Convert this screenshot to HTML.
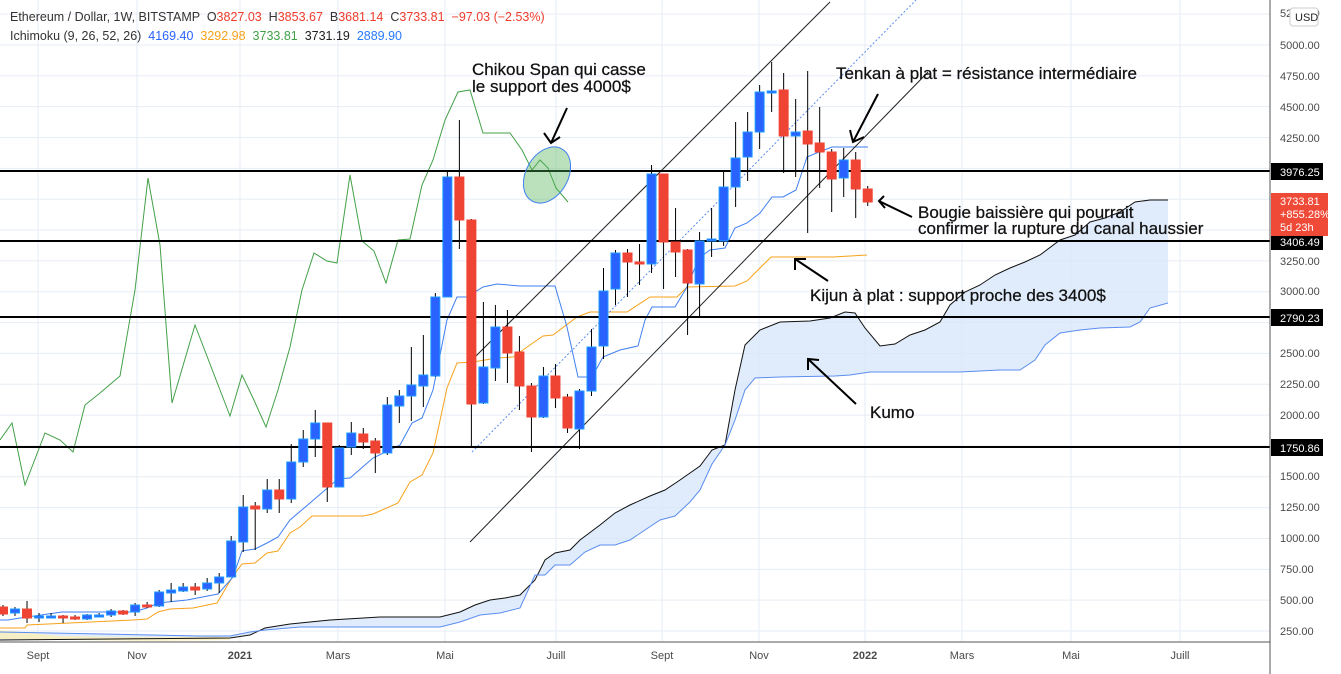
<!DOCTYPE html>
<html><head><meta charset="utf-8">
<style>
html,body{margin:0;padding:0;background:#fff;width:1341px;height:674px;overflow:hidden;font-family:"Liberation Sans",sans-serif;}
svg{position:absolute;left:0;top:0}
.ax{font-size:11px;fill:#4a4a4a}
.ann{font-size:17px;fill:#111;stroke:#111;stroke-width:0.25}
</style></head><body>
<svg width="1341" height="674" viewBox="0 0 1341 674" xmlns="http://www.w3.org/2000/svg">
<rect x="0" y="0" width="1341" height="674" fill="#fff"/>
<g id="grid" stroke="#e6edf4" stroke-width="1"></g>
<polygon id="kumo" fill="#d6e6fa" fill-opacity="0.75" points=""/>
<polygon fill="#fbf0b8" fill-opacity="0.8" points="0,630 60,636 120,637 200,637 230,637 230,640 150,641 0,639"/>
<polyline id="sb" fill="none" stroke="#111" stroke-width="1"/>
<polyline id="sa" fill="none" stroke="#5b8def" stroke-width="1"/>
<polyline fill="none" stroke="#43a047" stroke-width="1" points="0,440 12,423 25,485 45,433 60,440 73,452 85,405 100,393 120,376 135,290 148,178 160,245 172,403 195,325 220,390 230,416 242,375 253,398 266,427 278,390 290,347 302,290 314,253 327,261 337,263 350,175 362,241 374,251 386,283 398,240 410,239 422,185 433,160 445,120 458,92 470,90 483,133 510,133 522,150 532,170 540,160 548,168 556,188 568,202"/>
<polyline fill="none" stroke="#f7a21b" stroke-width="1" points="0,628 25,628 27,625 133,620 147,619 158,612 170,609 193,608 217,603 233,576 242,564 255,563 267,553 278,551 290,533 300,527 312,516 363,516 373,514 398,503 410,482 422,475 433,453 447,388 457,363 473,362 497,358 513,357 530,345 543,336 553,335 577,317 590,312 600,312 627,312 650,297 677,297 687,287 735,286 747,281 771,257 833,257 867,255"/>
<polyline fill="none" stroke="#3f7ff0" stroke-width="1" points="0,620 8,620 20,618 62,612 133,612 147,608 158,603 187,600 218,594 233,577 242,551 255,549 267,543 278,537 290,520 317,497 338,479 350,478 373,458 400,445 412,423 422,418 433,390 447,320 457,297 467,297 483,287 497,284 520,286 555,286 567,327 578,377 592,377 603,357 620,350 638,346 645,320 652,307 675,307 687,287 699,258 710,250 725,248 735,228 747,223 760,213 772,197 783,197 796,190 807,157 819,152 832,147 868,147"/>
<line x1="470" y1="362" x2="830" y2="2" stroke="#222" stroke-width="1"/>
<line x1="470" y1="542" x2="928" y2="72" stroke="#222" stroke-width="1"/>
<line x1="472" y1="452" x2="916" y2="0" stroke="#5b8def" stroke-width="1" stroke-dasharray="2,2"/>
<g stroke="#000" stroke-width="2">
<line x1="0" y1="171" x2="1270" y2="171"/>
<line x1="0" y1="241" x2="1270" y2="241"/>
<line x1="0" y1="317" x2="1270" y2="317"/>
<line x1="0" y1="447" x2="1270" y2="447"/>
</g>
<g id="candles"></g>
<ellipse cx="547" cy="175" rx="21" ry="30" transform="rotate(30 547 175)" fill="#4caf50" fill-opacity="0.38" stroke="#3f7ff0" stroke-width="1"/>
<g stroke="#000" stroke-width="2" fill="none">
<path d="M567,108 L551,143 M544,133 L551,143 L560,137"/>
<path d="M878,94 L853,142 M850,130 L853,142 L864,137"/>
<path d="M912,217 L879,201 M884,196 L879,201 L885,208"/>
<path d="M828,281 L795,259 M795,270 L795,259 L806,259"/>
<path d="M856,404 L808,359 M808,370 L808,359 L819,360"/>
</g>
<text class="ann" x="472" y="75">Chikou Span qui casse</text>
<text class="ann" x="472" y="92">le support des 4000$</text>
<text class="ann" x="836" y="79">Tenkan à plat = résistance intermédiaire</text>
<text class="ann" x="918" y="218">Bougie baissière qui pourrait</text>
<text class="ann" x="918" y="234">confirmer la rupture du canal haussier</text>
<text class="ann" x="810" y="301">Kijun à plat : support proche des 3400$</text>
<text class="ann" x="870" y="418">Kumo</text>
<line x1="1270" y1="0" x2="1270" y2="674" stroke="#555" stroke-width="1"/>
<line x1="0" y1="642" x2="1270" y2="642" stroke="#555" stroke-width="1"/>
<g class="ax">
<text x="1280" y="17">5250.00</text>
<text x="1280" y="49">5000.00</text>
<text x="1280" y="80">4750.00</text>
<text x="1280" y="111">4500.00</text>
<text x="1280" y="142">4250.00</text>
<text x="1280" y="265">3250.00</text>
<text x="1280" y="295">3000.00</text>
<text x="1280" y="357">2500.00</text>
<text x="1280" y="388">2250.00</text>
<text x="1280" y="419">2000.00</text>
<text x="1280" y="480">1500.00</text>
<text x="1280" y="511">1250.00</text>
<text x="1280" y="542">1000.00</text>
<text x="1280" y="573">750.00</text>
<text x="1280" y="604">500.00</text>
<text x="1280" y="635">250.00</text>
</g>
<rect x="1290" y="8" width="28" height="18" rx="3" fill="#fff" stroke="#ccc"/>
<text x="1295" y="21" font-size="11" fill="#222">USD</text>
<g font-size="11" fill="#fff">
<rect x="1271" y="163" width="52" height="17" fill="#000"/><text x="1280" y="176">3976.25</text>
<rect x="1271" y="233" width="52" height="17" fill="#000"/><text x="1280" y="246">3406.49</text>
<rect x="1271" y="309" width="52" height="17" fill="#000"/><text x="1280" y="322">2790.23</text>
<rect x="1271" y="439" width="52" height="17" fill="#000"/><text x="1280" y="452">1750.86</text>
<rect x="1271" y="193" width="57" height="43" fill="#ef4a37"/>
<text x="1280" y="205">3733.81</text><text x="1280" y="218">+855.28%</text><text x="1280" y="231">5d 23h</text>
</g>
<g class="ax" font-size="11" text-anchor="middle">
<text x="38" y="659">Sept</text><text x="137" y="659">Nov</text><text x="240" y="659" font-weight="bold">2021</text>
<text x="338" y="659">Mars</text><text x="445" y="659">Mai</text><text x="556" y="659">Juill</text>
<text x="662" y="659">Sept</text><text x="759" y="659">Nov</text><text x="865" y="659" font-weight="bold">2022</text>
<text x="962" y="659">Mars</text><text x="1071" y="659">Mai</text><text x="1180" y="659">Juill</text>
</g>
<text x="10" y="21" font-size="12.5" fill="#333" xml:space="preserve">Ethereum / Dollar, 1W, BITSTAMP  O<tspan fill="#ef3b2c">3827.03</tspan>  H<tspan fill="#ef3b2c">3853.67</tspan>  B<tspan fill="#ef3b2c">3681.14</tspan>  C<tspan fill="#ef3b2c">3733.81</tspan>  <tspan fill="#ef3b2c">−97.03 (−2.53%)</tspan></text>
<text x="10" y="40" font-size="12.5" fill="#333" xml:space="preserve">Ichimoku (9, 26, 52, 26)  <tspan fill="#2962ff">4169.40</tspan>  <tspan fill="#f7a21b">3292.98</tspan>  <tspan fill="#43a047">3733.81</tspan>  <tspan fill="#222">3731.19</tspan>  <tspan fill="#2979ff">2889.90</tspan></text>
</svg>
<script>
var NS="http://www.w3.org/2000/svg";
function el(t,a,p){var e=document.createElementNS(NS,t);for(var k in a)e.setAttribute(k,a[k]);p.appendChild(e);return e;}
var g=document.getElementById('grid');
[38,137,240,338,445,556,662,759,865,962,1071,1180].forEach(function(x){el('line',{x1:x,y1:0,x2:x,y2:642},g);});
for(var p=250;p<=5250;p+=250){var y=631-(p-250)*0.12337;el('line',{x1:0,y1:y,x2:1270,y2:y},g);}
var sb=[[0,640],[230,638],[250,635],[265,628],[290,624],[330,620],[380,617],[440,617],[460,612],[475,605],[490,600],[505,598],[520,595],[535,580],[545,560],[555,553],[570,550],[580,540],[600,525],[615,513],[630,505],[650,496],[665,490],[680,480],[700,466],[712,450],[725,445],[735,390],[745,345],[760,330],[780,322],[810,321],[830,318],[845,312],[855,313],[865,328],[880,346],[895,344],[910,335],[925,330],[940,322],[950,305],[965,292],[980,285],[995,275],[1010,268],[1025,262],[1040,255],[1060,240],[1075,235],[1090,222],[1105,218],[1120,212],[1135,202],[1150,200],[1168,200]];
var sa=[[0,632],[200,636],[230,636],[250,632],[265,630],[300,627],[360,627],[440,627],[460,622],[480,615],[500,613],[520,608],[535,575],[545,575],[555,565],[570,565],[585,552],[600,545],[615,545],[630,540],[645,530],[660,520],[675,516],[690,502],[700,490],[712,464],[725,445],[735,420],[745,390],[755,378],[780,377],[835,376],[850,375],[870,372],[900,372],[960,372],[1000,370],[1020,370],[1035,360],[1045,345],[1060,333],[1080,330],[1100,328],[1130,327],[1140,322],[1150,308],[1168,303]];
function pts(a){return a.map(function(q){return q.join(',');}).join(' ');}
document.getElementById('sb').setAttribute('points',pts(sb));
document.getElementById('sa').setAttribute('points',pts(sa));
document.getElementById('kumo').setAttribute('points',pts(sb.concat(sa.slice().reverse())));
var C=[['r',607,614,605,616],['b',609,613,607,616],['r',609,618,601,623],['b',616,618,613,622],['b',616,617,613,618],['r',616,618,615,623],['r',617,619,615,620],['b',615,619,614,620],['b',615,616,613,617],['b',611,615,609,617],['r',611,614,610,615],['b',605,612,603,616],['r',605,607,602,608],['b',592,606,590,607],['b',590,593,583,602],['b',587,591,583,592],['r',587,590,583,595],['b',583,589,578,591],['b',577,583,573,593],['b',541,577,536,577],['b',507,542,495,552],['r',506,509,502,550],['b',490,509,479,513],['r',490,499,479,513],['b',462,499,444,503],['b',439,462,430,467],['b',423,439,410,457],['r',423,487,423,502],['b',448,487,445,487],['b',433,447,422,455],['r',434,442,428,449],['r',441,453,438,473],['b',405,453,397,455],['b',396,406,390,423],['b',385,396,347,421],['b',375,386,335,407],['b',297,376,293,377],['b',177,297,172,297],['r',177,220,120,249],['r',220,404,219,447],['b',367,403,302,404],['b',327,368,305,381],['r',327,353,310,383],['r',352,386,336,410],['r',386,417,383,452],['b',376,417,367,418],['r',376,398,364,408],['r',397,428,394,433],['b',391,429,389,449],['b',347,391,329,396],['b',291,346,268,359],['b',253,289,250,305],['r',253,262,249,297],['r',262,264,244,285],['b',174,264,165,273],['r',174,242,174,289],['r',242,252,208,277],['r',250,283,249,335],['b',241,284,232,317],['b',239,241,208,257],['b',187,241,171,246],['b',158,187,122,207],['b',132,157,112,181],['b',92,132,85,149],['b',91,92,62,112],['r',90,136,73,173],['b',132,136,99,177],['r',131,144,71,233],['r',143,152,107,188],['r',152,179,149,212],['b',160,178,148,197],['r',160,189,152,218],['r',189,202,186,206]];
var cg=document.getElementById('candles');
C.forEach(function(c,i){var x=3+12.01*i;
el('line',{x1:x,y1:c[3],x2:x,y2:c[4],stroke:'#000','stroke-width':1},cg);
var h=Math.max(2,c[2]-c[1]);
el('rect',{x:x-4.5,y:c[1],width:9,height:h,fill:c[0]=='b'?'#2962ff':'#ef4434',stroke:c[0]=='b'?'#1e9bff':'#ef4434','stroke-width':1},cg);});
</script>
</body></html>
